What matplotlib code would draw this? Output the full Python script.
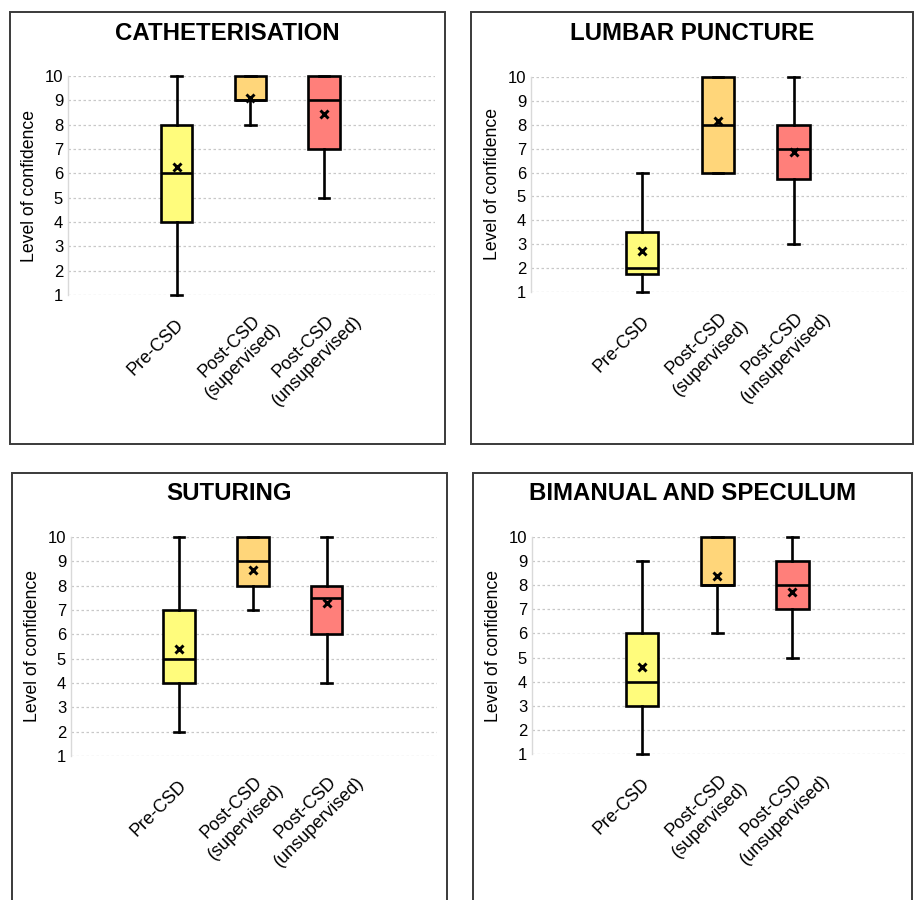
import matplotlib
matplotlib.use("Agg")
import matplotlib.pyplot as plt
import matplotlib.patches as patches
import matplotlib.transforms as mtransforms

plt.rcParams['font.family'] = ['Liberation Sans', 'DejaVu Sans']

# ---- data ----
groups = ["Pre-CSD", "Post-CSD\n(supervised)", "Post-CSD\n(unsupervised)"]
colors = ["#FFFC7C", "#FFD67A", "#FF7F7A"]
y_ticks = list(range(1, 11))

titles = ["CATHETERISATION", "LUMBAR PUNCTURE", "SUTURING", "BIMANUAL AND SPECULUM"]

# each row: [pre, supervised, unsupervised]
whislo = [[1, 8, 5], [1, 6, 3], [2, 7, 4], [1, 6, 5]]
q1 = [[4, 9, 7], [1.75, 6, 5.75], [4, 8, 6], [3, 8, 7]]
med = [[6, 9, 9], [2, 8, 7], [5, 9, 7.5], [4, 8, 8]]
q3 = [[8, 10, 10], [3.5, 10, 8], [7, 10, 8], [6, 10, 9]]
whishi = [[10, 10, 10], [6, 10, 10], [10, 10, 10], [9, 10, 10]]
means = [[6.25, 9.1, 8.45], [2.7, 8.15, 6.85], [5.4, 8.65, 7.3], [4.62, 8.4, 7.72]]

# ---- layout (figure pixels 914 x 900) ----
W, H = 914, 900
# axes: left, right, top(y=10), bottom(y=1) in pixels
axes_px = [(68, 435, 76, 295), (531, 907, 77, 292),
           (71, 437, 537, 756), (532, 905, 537, 754)]
# panel frames: left, top, right, bottom in pixels
frames_px = [(10, 12, 445, 444), (471, 12, 913, 444),
             (12, 473, 447, 905), (473, 473, 912, 905)]

fig = plt.figure(figsize=(W / 100, H / 100), dpi=100)
fig.patch.set_facecolor("white")

for i in range(4):
    fl, ft, fr, fb = frames_px[i]
    fig.patches.append(patches.Rectangle(
        (fl / W, 1 - fb / H), (fr - fl) / W, (fb - ft) / H,
        transform=fig.transFigure, fill=False, edgecolor="#3a3a3a", lw=1.4))
    fig.text((fl + fr) / 2 / W, 1 - (ft + 21) / H, titles[i],
             ha="center", va="center", fontsize=17.3, fontweight="bold")

    l, r, t, b = axes_px[i]
    ax = fig.add_axes([l / W, 1 - b / H, (r - l) / W, (b - t) / H])

    stats = []
    for j in range(3):
        stats.append(dict(whislo=whislo[i][j], q1=q1[i][j], med=med[i][j],
                          q3=q3[i][j], whishi=whishi[i][j], mean=means[i][j],
                          fliers=[]))
    bp = ax.bxp(stats, positions=[1, 2, 3], widths=0.43, capwidths=0.14,
                patch_artist=True, showmeans=True,
                boxprops=dict(linewidth=1.9, edgecolor="black"),
                medianprops=dict(color="black", linewidth=1.9),
                whiskerprops=dict(color="black", linewidth=1.9),
                capprops=dict(color="black", linewidth=1.9),
                meanprops=dict(marker="x", markeredgecolor="black",
                               markersize=5.5, markeredgewidth=2.1))
    for patch, c in zip(bp["boxes"], colors):
        patch.set_facecolor(c)
    for key in ["boxes", "medians", "whiskers", "caps", "means"]:
        for art in bp[key]:
            art.set_clip_on(False)
            art.set_zorder(5 if key == "means" else (3 if key == "boxes" else 4))

    ax.set_ylim(1, 10)
    ax.set_xlim(-0.47, 4.5)
    ax.set_yticks(y_ticks)
    ax.set_yticklabels([str(v) for v in y_ticks], fontsize=12)
    ax.yaxis.grid(True, color="#c8c8c8", linestyle=(0, (2, 2)), linewidth=0.9)
    ax.set_axisbelow(True)
    ax.tick_params(axis="y", length=0, pad=3.5)
    ax.tick_params(axis="x", length=0, pad=0)
    ax.set_xticks([1, 2, 3])
    ax.set_xticklabels(groups, rotation=45, ha="center", va="top",
                       rotation_mode="anchor", fontsize=13,
                       multialignment="center")
    shift = mtransforms.ScaledTranslation(-0.27, -0.46, fig.dpi_scale_trans)
    for lab in ax.get_xticklabels():
        lab.set_transform(lab.get_transform() + shift)
    ax.set_ylabel("Level of confidence", fontsize=12.7, labelpad=4.5)
    for s in ["top", "right", "bottom"]:
        ax.spines[s].set_visible(False)
    ax.spines["left"].set_color("#d9d9d9")
    ax.spines["left"].set_linewidth(1.0)

fig.savefig("out.png", dpi=100, facecolor="white")
